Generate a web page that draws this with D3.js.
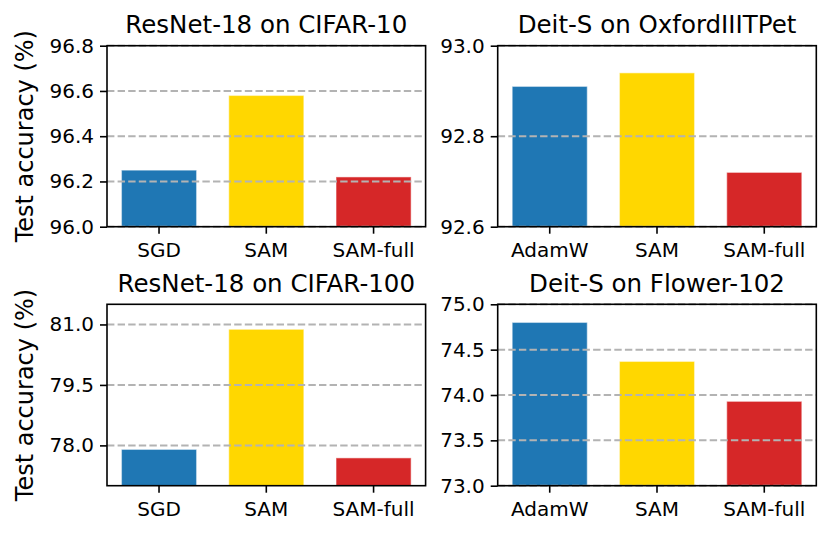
<!DOCTYPE html>
<html>
<head>
<meta charset="utf-8">
<script src="https://cdn.jsdelivr.net/npm/d3@7"></script>
<style>
  body { margin: 0; background: #fff; }
  svg { display: block; font-family: "DejaVu Sans", sans-serif; }
</style>
</head>
<body>
<svg id="chart" width="831" height="535"></svg>
<script>
// data
const resnetMethods = ["SGD", "SAM", "SAM-full"];
const deitMethods = ["AdamW", "SAM", "SAM-full"];
const barColors = ["#1f77b4", "#ffd700", "#d62728"];

const cifar10Acc = [96.25, 96.58, 96.22];
const petAcc = [92.91, 92.94, 92.72];
const cifar100Acc = [77.9, 80.88, 77.69];
const flowerAcc = [74.80, 74.37, 73.93];

const cifar10Ticks = [96.0, 96.2, 96.4, 96.6, 96.8];
const petTicks = [92.6, 92.8, 93.0];
const cifar100Ticks = [78.0, 79.5, 81.0];
const flowerTicks = [73.0, 73.5, 74.0, 74.5, 75.0];

const panels = [
  { title: "ResNet-18 on CIFAR-10", cats: resnetMethods, values: cifar10Acc, ticks: cifar10Ticks, domain: [96.0, 96.8], col: 0, row: 0 },
  { title: "Deit-S on OxfordIIITPet", cats: deitMethods, values: petAcc, ticks: petTicks, domain: [92.6, 93.0], col: 1, row: 0 },
  { title: "ResNet-18 on CIFAR-100", cats: resnetMethods, values: cifar100Acc, ticks: cifar100Ticks, domain: [77.0, 81.5], col: 0, row: 1 },
  { title: "Deit-S on Flower-102", cats: deitMethods, values: flowerAcc, ticks: flowerTicks, domain: [73.0, 75.0], col: 1, row: 1 }
];

const colX = [107, 497.7];
const rowY = [45.7, 304.3];
const pw = 318.6;
const ph = 181;

const svg = d3.select("#chart");

panels.forEach(p => {
  const x0 = colX[p.col];
  const y0 = rowY[p.row];
  const h = p.row === 0 ? ph : 181.4;

  const g = svg.append("g").attr("transform", `translate(${x0},${y0})`);

  const x = d3.scaleBand()
    .domain(p.cats)
    .range([0, pw])
    .paddingInner(0.3)
    .paddingOuter(0.135);

  const y = d3.scaleLinear()
    .domain(p.domain)
    .range([h, 0]);

  // bars
  g.selectAll("rect.bar")
    .data(p.values)
    .enter()
    .append("rect")
    .attr("class", "bar")
    .attr("x", (d, i) => x(p.cats[i]))
    .attr("width", x.bandwidth())
    .attr("y", d => y(d))
    .attr("height", d => h - y(d))
    .attr("fill", (d, i) => barColors[i])
    .attr("stroke", "#fff")
    .attr("stroke-opacity", 0.45)
    .attr("stroke-width", 1.2);

  // dashed grid, drawn above the bars
  g.selectAll("line.grid")
    .data(p.ticks)
    .enter()
    .append("line")
    .attr("class", "grid")
    .attr("x1", 0)
    .attr("x2", pw)
    .attr("y1", d => y(d))
    .attr("y2", d => y(d))
    .attr("stroke", "#b3b3b3")
    .attr("stroke-width", 2)
    .attr("stroke-dasharray", "7.4,3.2");

  // axes
  const yAxis = g.append("g")
    .call(d3.axisLeft(y).tickValues(p.ticks).tickFormat(d3.format(".1f")).tickSize(7).tickPadding(6));

  const xAxis = g.append("g")
    .attr("transform", `translate(0,${h})`)
    .call(d3.axisBottom(x).tickSize(7).tickPadding(9));

  [yAxis, xAxis].forEach(a => {
    a.select(".domain").remove();
    a.selectAll(".tick line").attr("stroke", "#000").attr("stroke-width", 1.6);
    a.selectAll(".tick text")
      .attr("fill", "#000")
      .style("font-size", "20px")
      .style("font-family", "DejaVu Sans, sans-serif");
  });

  // frame
  g.append("rect")
    .attr("width", pw)
    .attr("height", h)
    .attr("fill", "none")
    .attr("stroke", "#000")
    .attr("stroke-width", 1.6);

  // title
  g.append("text")
    .attr("x", pw / 2)
    .attr("y", -12.5)
    .attr("text-anchor", "middle")
    .style("font-size", "24.5px")
    .text(p.title);

  if (p.col === 0) {
    g.append("text")
      .attr("transform", `translate(${33 - x0},${h / 2}) rotate(-90)`)
      .attr("text-anchor", "middle")
      .style("font-size", "24px")
      .text("Test accuracy (%)");
  }
});
</script>
</body>
</html>
